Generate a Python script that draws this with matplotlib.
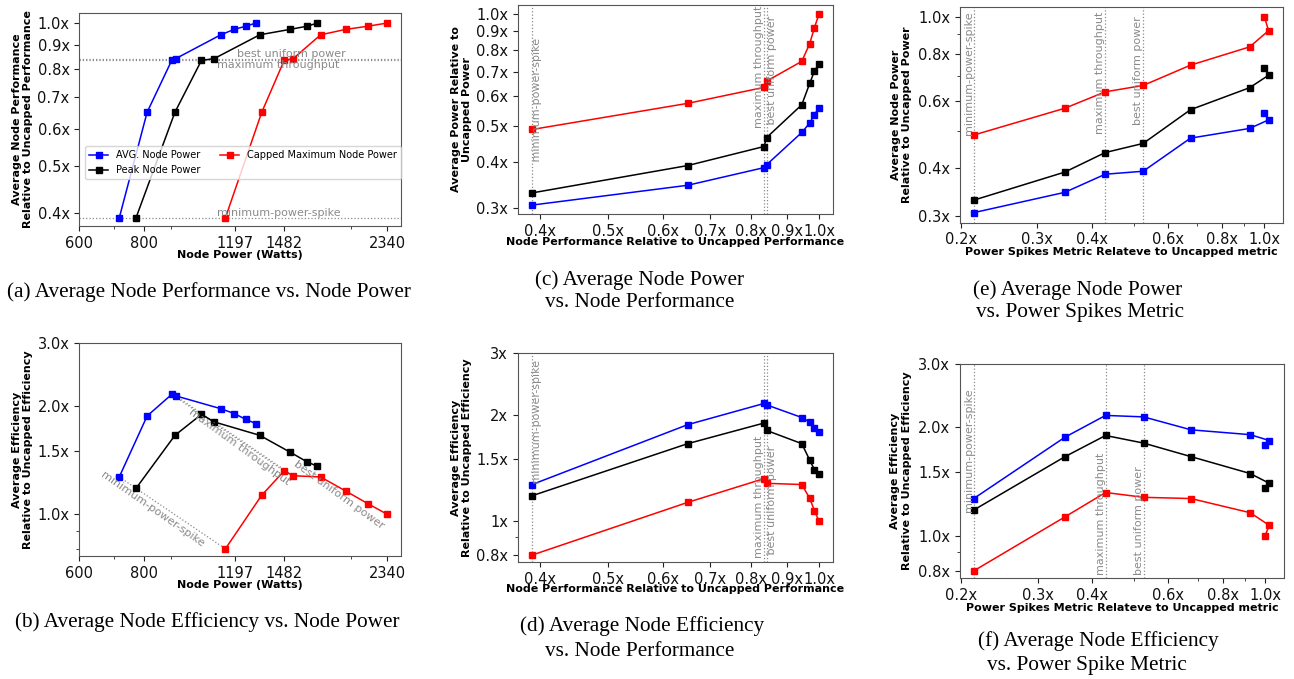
import matplotlib
matplotlib.use("Agg")
import matplotlib.pyplot as plt
from matplotlib.ticker import NullFormatter

# ---------------- data ----------------
perf = [0.39, 0.65, 0.835, 0.842, 0.945, 0.97, 0.985, 1.0]
power_avg = [716, 810, 903, 919, 1122, 1190, 1253, 1310]
power_peak = [771, 916, 1030, 1089, 1333, 1524, 1643, 1720]
power_cap = [1145, 1345, 1485, 1545, 1745, 1950, 2150, 2340]
eff_avg = [1.27, 1.88, 2.16, 2.14, 1.97, 1.91, 1.84, 1.79]
eff_peak = [1.18, 1.66, 1.90, 1.81, 1.66, 1.49, 1.40, 1.36]
eff_cap = [0.80, 1.13, 1.32, 1.28, 1.27, 1.16, 1.07, 1.00]
rel_avg = [0.306, 0.346, 0.386, 0.393, 0.480, 0.509, 0.536, 0.560]
rel_peak = [0.330, 0.391, 0.440, 0.465, 0.570, 0.651, 0.702, 0.735]
rel_cap = [0.489, 0.575, 0.635, 0.660, 0.746, 0.833, 0.919, 1.000]
spike = [0.214, 0.347, 0.430, 0.526, 0.676, 0.925, 1.023, 1.0]

series_names = ["AVG. Node Power", "Peak Node Power", "Capped Maximum Node Power"]
series_colors = ["#0000ff", "#000000", "#ff0000"]
config_names = ["minimum-power-spike", "maximum throughput", "best uniform power"]
config_idx = [0, 2, 3]

power_ticks = [600, 800, 1197, 1482, 2340]
power_ticklabels = ["600", "800", "1197", "1482", "2340"]
perf_ticks = [0.4, 0.5, 0.6, 0.7, 0.8, 0.9, 1.0]
perf_ticklabels = ["0.4x", "0.5x", "0.6x", "0.7x", "0.8x", "0.9x", "1.0x"]
relp_ticks_c = [0.3, 0.4, 0.5, 0.6, 0.7, 0.8, 0.9, 1.0]
relp_ticklabels_c = ["0.3x", "0.4x", "0.5x", "0.6x", "0.7x", "0.8x", "0.9x", "1.0x"]
relp_ticks_e = [0.3, 0.4, 0.6, 0.8, 1.0]
relp_ticklabels_e = ["0.3x", "0.4x", "0.6x", "0.8x", "1.0x"]
spike_ticks = [0.2, 0.3, 0.4, 0.6, 0.8, 1.0]
spike_ticklabels = ["0.2x", "0.3x", "0.4x", "0.6x", "0.8x", "1.0x"]
eff_ticks = [0.8, 1.0, 1.5, 2.0, 3.0]
eff_ticklabels_f = ["0.8x", "1.0x", "1.5x", "2.0x", "3.0x"]
eff_ticklabels_d = ["0.8x", "1x", "1.5x", "2x", "3x"]

# ---------------- figure ----------------
W, H = 1294, 679
fig = plt.figure(figsize=(W / 100, H / 100), dpi=100)

TICK_FS = 10.5
LAB_FS = 8
REF_FS = 8
GRAY = "#8a8a8a"
SPINE = "#555555"


def add_ax(l, r, t, b):
    return fig.add_axes([l / W, 1 - b / H, (r - l) / W, (b - t) / H])


def style(ax, xt, xtl, yt, ytl, xlim, ylim, xlabel, ylabel, ylc, xlc):
    ax.set_xscale("log")
    ax.set_yscale("log")
    ax.set_xlim(*xlim)
    ax.set_ylim(*ylim)
    ax.set_xticks(xt)
    ax.set_xticklabels(xtl)
    ax.set_yticks(yt)
    ax.set_yticklabels(ytl)
    ax.xaxis.set_minor_formatter(NullFormatter())
    ax.yaxis.set_minor_formatter(NullFormatter())
    ax.tick_params(labelsize=TICK_FS, colors="#222222", labelcolor="#111111")
    ax.tick_params(which="minor", colors="#222222")
    for s in ax.spines.values():
        s.set_color(SPINE)
    ax.set_xlabel(xlabel, fontsize=LAB_FS, fontweight="bold")
    ax.set_ylabel(ylabel, fontsize=LAB_FS, fontweight="bold")
    ax.yaxis.set_label_coords(ylc, 0.5)
    ax.xaxis.set_label_coords(0.5, xlc)


def plot_series(ax, xs, ys, labels=True):
    for x, y, c, n in zip(xs, ys, series_colors, series_names):
        ax.plot(x, y, "-s", color=c, lw=1.1, ms=4.6, label=n if labels else None, zorder=3)


# ---- (a) performance vs power ----
axa = add_ax(79.3, 401, 13, 226)
plot_series(axa, [power_avg, power_peak, power_cap], [perf, perf, perf])
for i in config_idx:
    axa.axhline(perf[i], ls=":", color=GRAY, lw=0.9, zorder=1)
axa.text(1204, perf[3], config_names[2], color=GRAY, fontsize=REF_FS, ha="left", va="bottom")
axa.text(1102, perf[2], config_names[1], color=GRAY, fontsize=REF_FS, ha="left", va="top")
axa.text(1102, perf[0], config_names[0], color=GRAY, fontsize=REF_FS, ha="left", va="bottom")
style(axa, power_ticks, power_ticklabels,
      [0.4, 0.5, 0.6, 0.7, 0.8, 0.9, 1.0], ["0.4x", "0.5x", "0.6x", "0.7x", "0.8x", "0.9x", "1.0x"],
      (600, 2490), (0.375, 1.05), "Node Power (Watts)",
      "Average Node Performance\nRelative to Uncapped Performance", -0.1424, -0.1136)
axa.legend(loc="lower left", bbox_to_anchor=(0.0177, 0.2207), borderaxespad=0,
           ncol=2, fontsize=7)

# ---- (b) efficiency vs power ----
axb = add_ax(79.3, 401, 343.3, 556)
plot_series(axb, [power_avg, power_peak, power_cap], [eff_avg, eff_peak, eff_cap], labels=False)
for i in config_idx:
    axb.plot([power_avg[i], power_cap[i]], [eff_avg[i], eff_cap[i]], ls=":", color=GRAY, lw=0.9, zorder=1)
axb.text(831, 1.03, config_names[0], color=GRAY, fontsize=REF_FS, rotation=-35,
         rotation_mode="anchor", ha="center", va="center")
axb.text(1217, 1.54, config_names[1], color=GRAY, fontsize=REF_FS, rotation=-36,
         rotation_mode="anchor", ha="center", va="center")
axb.text(1888, 1.133, config_names[2], color=GRAY, fontsize=REF_FS, rotation=-36,
         rotation_mode="anchor", ha="center", va="center")
style(axb, power_ticks, power_ticklabels, eff_ticks[1:], eff_ticklabels_f[1:],
      (600, 2490), (0.764, 3.0), "Node Power (Watts)",
      "Average Efficiency\nRelative to Uncapped Efficiency", -0.1424, -0.1105)

# ---- (c) power vs performance ----
axc = add_ax(517.7, 833.3, 4.7, 214.3)
plot_series(axc, [perf, perf, perf], [rel_avg, rel_peak, rel_cap], labels=False)
for i in config_idx:
    axc.axvline(perf[i], ls=":", color=GRAY, lw=0.9, zorder=1)
axc.text(perf[0], 0.392, " " + config_names[0], color=GRAY, fontsize=REF_FS, rotation=90, ha="left", va="bottom")
axc.text(perf[2], 0.493, config_names[1], color=GRAY, fontsize=REF_FS, rotation=90, ha="right", va="bottom")
axc.text(perf[3], 0.493, " " + config_names[2], color=GRAY, fontsize=REF_FS, rotation=90, ha="left", va="bottom")
style(axc, perf_ticks, perf_ticklabels, relp_ticks_c, relp_ticklabels_c,
      (0.372, 1.048), (0.289, 1.06), "Node Performance Relative to Uncapped Performance",
      "Average Power Relative to\nUncapped Power", -0.1442, -0.1073)

# ---- (d) efficiency vs performance ----
axd = add_ax(517.7, 833.3, 353.3, 562.3)
plot_series(axd, [perf, perf, perf], [eff_avg, eff_peak, eff_cap], labels=False)
for i in config_idx:
    axd.axvline(perf[i], ls=":", color=GRAY, lw=0.9, zorder=1)
axd.text(perf[0], 1.25, " " + config_names[0], color=GRAY, fontsize=REF_FS, rotation=90, ha="left", va="bottom")
axd.text(perf[2], 0.783, config_names[1], color=GRAY, fontsize=REF_FS, rotation=90, ha="right", va="bottom")
axd.text(perf[3], 0.783, " " + config_names[2], color=GRAY, fontsize=REF_FS, rotation=90, ha="left", va="bottom")
style(axd, perf_ticks, perf_ticklabels, eff_ticks, eff_ticklabels_d,
      (0.372, 1.048), (0.763, 3.0), "Node Performance Relative to Uncapped Performance",
      "Average Efficiency\nRelative to Uncapped Efficiency", -0.1442, -0.1062)

# ---- (e) power vs spikes metric ----
axe = add_ax(960, 1283.3, 6.7, 222.7)
plot_series(axe, [spike, spike, spike], [rel_avg, rel_peak, rel_cap], labels=False)
for i in config_idx:
    axe.axvline(spike[i], ls=":", color=GRAY, lw=0.9, zorder=1)
axe.text(spike[0], 0.489, config_names[0], color=GRAY, fontsize=REF_FS, rotation=90, ha="right", va="bottom")
axe.text(spike[2], 0.491, config_names[1], color=GRAY, fontsize=REF_FS, rotation=90, ha="right", va="bottom")
axe.text(spike[3], 0.52, config_names[2], color=GRAY, fontsize=REF_FS, rotation=90, ha="right", va="bottom")
style(axe, spike_ticks, spike_ticklabels, relp_ticks_e, relp_ticklabels_e,
      (0.199, 1.106), (0.288, 1.062), "Power Spikes Metric Relateve to Uncapped metric",
      "Average Node Power\nRelative to Uncapped Power", -0.148, -0.1116)

# ---- (f) efficiency vs spikes metric ----
axf = add_ax(960, 1284, 364, 578.3)
plot_series(axf, [spike, spike, spike], [eff_avg, eff_peak, eff_cap], labels=False)
for i in config_idx:
    axf.axvline(spike[i], ls=":", color=GRAY, lw=0.9, zorder=1)
axf.text(spike[0], 1.168, config_names[0], color=GRAY, fontsize=REF_FS, rotation=90, ha="right", va="bottom")
axf.text(spike[2], 0.78, config_names[1], color=GRAY, fontsize=REF_FS, rotation=90, ha="right", va="bottom")
axf.text(spike[3], 0.78, config_names[2], color=GRAY, fontsize=REF_FS, rotation=90, ha="right", va="bottom")
style(axf, spike_ticks, spike_ticklabels, eff_ticks, eff_ticklabels_f,
      (0.199, 1.106), (0.763, 3.0), "Power Spikes Metric Relateve to Uncapped metric",
      "Average Efficiency\nRelative to Uncapped Efficiency", -0.148, -0.1143)

# ---------------- sub-captions ----------------
CAP_FS = 15.3


def cap(x, y, s, ha="left"):
    fig.text(x / W, 1 - y / H, s, fontsize=CAP_FS, family="Liberation Serif",
             ha=ha, va="baseline", color="#000000")


cap(411, 296.7, "(a) Average Node Performance vs. Node Power", ha="right")
cap(15, 626.7, "(b) Average Node Efficiency vs. Node Power")
cap(535, 285, "(c) Average Node Power")
cap(545, 306.7, "vs. Node Performance")
cap(520.5, 630.7, "(d) Average Node Efficiency")
cap(545, 655.7, "vs. Node Performance")
cap(973.3, 295, "(e) Average Node Power")
cap(976, 316.7, "vs. Power Spikes Metric")
cap(978, 646, "(f) Average Node Efficiency")
cap(987, 670, "vs. Power Spike Metric")

fig.savefig("out.png", dpi=100)
